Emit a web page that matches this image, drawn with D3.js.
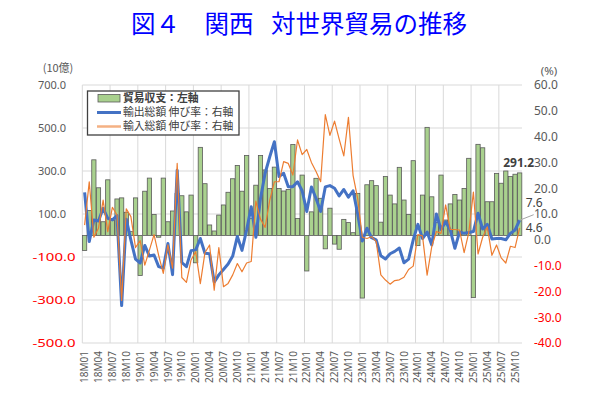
<!DOCTYPE html>
<html><head><meta charset="utf-8">
<script src="https://cdn.jsdelivr.net/npm/d3@7"></script>
<style>body{margin:0;background:#fff}</style>
</head><body><svg id="c" width="602" height="396"></svg>
<script>
const months = ["18M01","18M02","18M03","18M04","18M05","18M06","18M07","18M08","18M09","18M10","18M11","18M12",
"19M01","19M02","19M03","19M04","19M05","19M06","19M07","19M08","19M09","19M10","19M11","19M12",
"20M01","20M02","20M03","20M04","20M05","20M06","20M07","20M08","20M09","20M10","20M11","20M12",
"21M01","21M02","21M03","21M04","21M05","21M06","21M07","21M08","21M09","21M10","21M11","21M12",
"22M01","22M02","22M03","22M04","22M05","22M06","22M07","22M08","22M09","22M10","22M11","22M12",
"23M01","23M02","23M03","23M04","23M05","23M06","23M07","23M08","23M09","23M10","23M11","23M12",
"24M01","24M02","24M03","24M04","24M05","24M06","24M07","24M08","24M09","24M10","24M11","24M12",
"25M01","25M02","25M03","25M04","25M05","25M06","25M07","25M08","25M09","25M10","25M11"];
const xTickLabels = ["18M01","18M04","18M07","18M10","19M01","19M04","19M07","19M10","20M01","20M04","20M07","20M10",
"21M01","21M04","21M07","21M10","22M01","22M04","22M07","22M10","23M01","23M04","23M07","23M10",
"24M01","24M04","24M07","24M10","25M01","25M04","25M07","25M10"];
const gridMonths = ["18M01","18M07","19M01","19M07","20M01","20M07","21M01","21M07","22M01","22M07","23M01","23M07","24M01","24M07","25M01","25M07"];

// 貿易収支 (10億円)
const balance = [-70,116,352,222,64,259,70,170,175,108,
 18,175,-186,206,267,98,-8,267,64,114,
 195,185,110,188,-127,410,241,49,21,95,
 142,201,264,326,206,372,80,234,372,305,
 219,318,219,207,214,423,79,281,-165,110,
 266,173,-62,127,-40,-64,75,60,13,196,
 -291,236,255,232,62,274,188,147,317,165,
 98,348,-47,188,503,180,60,281,72,147,
 191,165,219,359,-289,424,408,157,157,289,
 243,300,274,285,291.2];
// 輸出総額 伸び率 (%)
const exportGrowth = [18.4,-0.7,7.7,7.3,12.2,8.3,7.7,9.4,-25.5,8,
 -0.1,-7.5,-9,-2.2,-6.3,-5.9,-10.4,-11,-1.4,-13.5,
 27,-8.8,-10.4,-4.2,-3.9,0.5,-5.2,-5.4,-16.4,-13.6,
 -11.5,-9.4,-6.3,1.3,-4.1,3.8,12.8,1,16,25.8,
 32.2,38,24.5,25.8,20.6,20.6,22.5,19,11,20.5,
 16,11,20.5,21,20,17,19.5,16.5,19,10,
 -0.5,4.5,0.8,0,-6.2,-7.4,-5.4,-4.5,-3.2,-8.9,
 -7.5,0,6,0.5,3,-2,10,4,7,3.8,
 -3.3,3,2.5,2.8,3.2,10.3,4.2,6,0.3,0.5,
 0.5,0,2.5,3.8,7.6];
// 輸入総額 伸び率 (%)
const importGrowth = [5.7,22.5,1,4.5,15.4,3.2,12.6,9.6,-23.5,12,
 9,-3,-0.3,-9.8,-4,2,-6,-13,-2,-11,
 29.6,-14.6,-16.5,-7.8,-4.6,-17,-5,-2,-19.5,-3,
 -18.2,-16.9,-13.6,-9.2,-12.4,-9,-8.4,15,8,4.8,
 15.4,22.5,22.5,30.3,29.6,25.1,38.7,33,35,30,
 26.5,22.5,48.5,40.5,46,39,32.5,47.5,25,16,
 1,0.5,1.2,-0.7,-13.6,-15.6,-17.2,-15.8,-15.5,-14.5,
 -11.5,-10.2,2,1.5,-13.7,-2.7,3.2,2.5,13.5,4,
 4,3.8,-5,2.8,18.5,-5.5,1,5,-6,-2,
 -7,-9,-2.5,-3,4.6];

const leftTicks = [-500,-300,-100,100,300,500,700];
const rightTicks = [-40,-30,-20,-10,0,10,20,30,40,50,60];
const legendItems = ["貿易収支：左軸","輸出総額 伸び率：右軸","輸入総額 伸び率：右軸"];
const titleParts = ["図４　関西", "対世界貿易の推移"];

const svg = d3.select("#c");
const L = 82.3, R = 522, T = 85, B = 343;
const x = d3.scaleBand().domain(months).range([L, R]).padding(0);
const yL = d3.scaleLinear().domain([-500, 700]).range([B, T]);
const yR = d3.scaleLinear().domain([-40, 60]).range([B, T]);
const bw = x.bandwidth();
const cx = m => x(m) + bw / 2;
const numFont = "'Noto Sans', 'Liberation Sans', sans-serif";
const cjkFont = "'Noto Sans CJK JP', 'Noto Sans', sans-serif";
const grid = "#d9d9d9";

// title
const tt = svg.append("text").attr("y", 33)
  .attr("font-family", cjkFont).attr("font-size", 24.5).attr("fill", "#0000ff");
tt.append("tspan").attr("x", 131).text(titleParts[0]);
tt.append("tspan").attr("x", 271).text(titleParts[1]);

// gridlines
svg.append("g").selectAll("line").data(leftTicks).join("line")
  .attr("x1", L).attr("x2", R).attr("y1", d => yL(d)).attr("y2", d => yL(d))
  .attr("stroke", grid).attr("stroke-width", 1);
svg.append("g").selectAll("line").data(gridMonths).join("line")
  .attr("x1", d => x(d)).attr("x2", d => x(d)).attr("y1", T).attr("y2", B)
  .attr("stroke", grid).attr("stroke-width", 1);

// left axis
const ax = svg.append("g").attr("transform", `translate(${L},0)`)
  .call(d3.axisLeft(yL).tickValues(leftTicks).tickSize(0).tickPadding(L - 66).tickFormat(d => d.toFixed(1)));
ax.select(".domain").remove();
ax.selectAll("text").attr("font-family", numFont).attr("font-size", 11)
  .attr("fill", d => d < 0 ? "#ff0000" : "#595959");
ax.selectAll("text").filter(d => d < 0)
  .attr("text-anchor", "start").attr("x", 32.5 - L).attr("font-size", 11.5)
  .attr("textLength", 43).attr("lengthAdjust", "spacingAndGlyphs");

// right axis
const ar = svg.append("g").attr("transform", `translate(${R},0)`)
  .call(d3.axisRight(yR).tickValues(rightTicks).tickSize(0).tickPadding(534 - R).tickFormat(d => d.toFixed(1)));
ar.select(".domain").remove();
ar.selectAll("text").attr("font-family", numFont).attr("font-size", 12)
  .attr("fill", d => d < 0 ? "#ff0000" : "#595959");

// unit labels
svg.append("text").attr("x", 58).attr("y", 72).attr("text-anchor", "middle")
  .attr("font-family", cjkFont).attr("font-size", 11).attr("fill", "#595959").text("(10億)");
svg.append("text").attr("x", 549).attr("y", 75).attr("text-anchor", "middle")
  .attr("font-family", numFont).attr("font-size", 11.5).attr("fill", "#595959").text("(%)");

// x labels
svg.append("g").selectAll("text").data(xTickLabels).join("text")
  .attr("transform", d => `translate(${cx(d)},351) rotate(-90)`)
  .attr("text-anchor", "end").attr("dy", "0.36em")
  .attr("font-family", numFont).attr("font-size", 10).attr("fill", "#595959").text(d => d);

// bars
const barW = bw * 0.92;
svg.append("g").selectAll("rect").data(months).join("rect")
  .attr("x", (d) => cx(d) - barW / 2).attr("width", barW)
  .attr("y", (d, i) => yL(Math.max(0, balance[i])))
  .attr("height", (d, i) => Math.abs(yL(balance[i]) - yL(0)))
  .attr("fill", "#a9d18e").attr("stroke", "#5a5a5a").attr("stroke-width", 0.8);

// lines
const lineE = d3.line().x((d, i) => cx(months[i])).y(d => yR(d));
svg.append("path").datum(exportGrowth).attr("d", lineE).attr("fill", "none")
  .attr("stroke", "#4472c4").attr("stroke-width", 3).attr("stroke-linejoin", "round");
svg.append("path").datum(importGrowth).attr("d", lineE).attr("fill", "none")
  .attr("stroke", "#ed7d31").attr("stroke-width", 1.2).attr("stroke-linejoin", "round");

// data labels
const last = months.length - 1;
const lx = cx(months[last]);
svg.append("text").attr("x", lx - 1).attr("y", yL(balance[last]) - 6).attr("text-anchor", "middle")
  .attr("font-family", numFont).attr("font-size", 12).attr("font-weight", "bold").attr("fill", "#404040")
  .text(balance[last].toFixed(1));
svg.append("line").attr("x1", lx).attr("y1", yR(exportGrowth[last])).attr("x2", lx + 14).attr("y2", yR(exportGrowth[last]) - 5.5)
  .attr("stroke", "#a6a6a6").attr("stroke-width", 1);
svg.append("text").attr("x", lx + 6).attr("y", yR(exportGrowth[last]) - 13).attr("text-anchor", "start")
  .attr("font-family", numFont).attr("font-size", 12).attr("fill", "#404040").text(exportGrowth[last].toFixed(1));
svg.append("text").attr("x", lx + 6).attr("y", yR(importGrowth[last]) + 4).attr("text-anchor", "start")
  .attr("font-family", numFont).attr("font-size", 12).attr("fill", "#404040").text(importGrowth[last].toFixed(1));

// legend
const lg = svg.append("g");
lg.append("rect").attr("x", 87.5).attr("y", 91).attr("width", 151.5).attr("height", 44)
  .attr("fill", "#fff").attr("stroke", "#404040").attr("stroke-width", 1.3);
lg.append("rect").attr("x", 98).attr("y", 94.5).attr("width", 22).attr("height", 7.5)
  .attr("fill", "#a9d18e").attr("stroke", "#5a5a5a").attr("stroke-width", 0.8);
lg.append("line").attr("x1", 97).attr("x2", 121).attr("y1", 112.5).attr("y2", 112.5)
  .attr("stroke", "#4472c4").attr("stroke-width", 3);
lg.append("line").attr("x1", 97).attr("x2", 121).attr("y1", 126.5).attr("y2", 126.5)
  .attr("stroke", "#f4b183").attr("stroke-width", 2.5);
lg.selectAll("text.li").data(legendItems).join("text").attr("class", "li")
  .attr("x", 123).attr("y", (d, i) => 98.5 + i * 14).attr("dy", "0.35em")
  .attr("font-family", cjkFont).attr("font-size", 10.8)
  .attr("font-weight", (d, i) => i === 0 ? "bold" : "normal")
  .attr("fill", "#404040").text(d => d);
</script></body></html>
